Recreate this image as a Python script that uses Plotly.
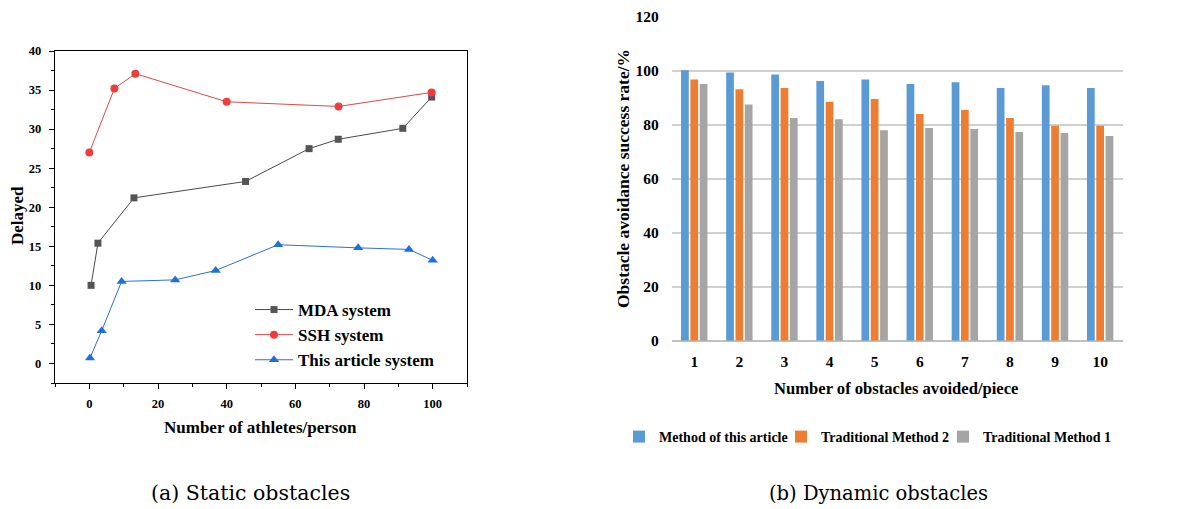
import plotly.graph_objects as go

# ---- Left chart data (Static obstacles) ----
mda_x = [0.5, 2.5, 13, 45.5, 64, 72.5, 91.3, 99.7]
mda_y = [10.0, 15.4, 21.2, 23.3, 27.5, 28.7, 30.1, 34.1]
ssh_x = [0, 7.3, 13.4, 40, 72.6, 99.7]
ssh_y = [27.0, 35.2, 37.1, 33.5, 32.9, 34.7]
art_x = [0.2, 3.6, 9.4, 25, 36.8, 55, 78.3, 93.1, 100]
art_y = [0.7, 4.2, 10.5, 10.7, 11.9, 15.2, 14.8, 14.6, 13.2]

# ---- Right chart data (Dynamic obstacles) ----
categories = ["1", "2", "3", "4", "5", "6", "7", "8", "9", "10"]
method_this = [100.2, 99.3, 98.6, 96.2, 96.7, 95.1, 95.7, 93.6, 94.6, 93.6]
trad_2 = [96.7, 93.1, 93.6, 88.5, 89.5, 84.0, 85.4, 82.5, 79.6, 79.6]
trad_1 = [95.1, 87.5, 82.5, 82.0, 77.9, 78.8, 78.4, 77.3, 76.9, 75.8]

W, H = 1182, 509
OFF = 8  # page body margin offset
SERIF = "Liberation Serif"

fig = go.Figure()

fig.add_trace(go.Scatter(x=mda_x, y=mda_y, mode="lines+markers", name="MDA system",
                         line=dict(color="#4a4a4a", width=1),
                         marker=dict(symbol="square", size=7, color="#555555"),
                         xaxis="x", yaxis="y", legend="legend"))
fig.add_trace(go.Scatter(x=ssh_x, y=ssh_y, mode="lines+markers", name="SSH system",
                         line=dict(color="#e04848", width=1),
                         marker=dict(symbol="circle", size=8, color="#f03c3c"),
                         xaxis="x", yaxis="y", legend="legend"))
fig.add_trace(go.Scatter(x=art_x, y=art_y, mode="lines+markers", name="This article system",
                         line=dict(color="#2f6fd6", width=1),
                         marker=dict(symbol="triangle-up", size=9, color="#1f6fe0"),
                         xaxis="x", yaxis="y", legend="legend"))

fig.add_trace(go.Bar(x=categories, y=method_this, name="Method of this article",
                     marker=dict(color="#5b9bd5", line=dict(width=0)),
                     xaxis="x2", yaxis="y2", legend="legend2"))
fig.add_trace(go.Bar(x=categories, y=trad_2, name="Traditional Method 2",
                     marker=dict(color="#ed7d31", line=dict(width=0)),
                     xaxis="x2", yaxis="y2", legend="legend3"))
fig.add_trace(go.Bar(x=categories, y=trad_1, name="Traditional Method 1",
                     marker=dict(color="#a5a5a5", line=dict(width=0)),
                     xaxis="x2", yaxis="y2", legend="legend4"))

def px_x(p):
    return (p - OFF) / W

def px_y(p):
    return 1 - (p - OFF) / H

tickfont_l = dict(family=SERIF, size=12.5, color="#000000", weight="bold")
tickfont_r = dict(family=SERIF, size=15.5, color="#000000", weight="bold")
legfont_r = dict(family=SERIF, size=14, color="#000000", weight="bold")

def bar_legend(xpix):
    return dict(x=px_x(xpix), y=px_y(437), xanchor="left", yanchor="middle",
                orientation="h", bgcolor="rgba(0,0,0,0)", itemwidth=30, font=legfont_r)

fig.update_layout(
    width=W, height=H,
    margin=dict(l=0, r=0, t=0, b=0, autoexpand=False),
    paper_bgcolor="white", plot_bgcolor="white",
    barmode="group", bargap=0.38, bargroupgap=0.17,
    showlegend=True,
    xaxis=dict(domain=[px_x(55), px_x(467)], range=[-10, 110],
               tickvals=[0, 20, 40, 60, 80, 100],
               showline=True, linecolor="#000000", linewidth=1.3, mirror=True,
               ticks="outside", ticklen=5, tickcolor="#000000", tickwidth=1,
               minor=dict(ticks="outside", ticklen=3, dtick=10, tickcolor="#000000"),
               showgrid=False, zeroline=False, tickfont=tickfont_l, anchor="y",
               automargin=False, ticklabelstandoff=4),
    yaxis=dict(domain=[px_y(383), px_y(51)], range=[-2.5, 40],
               tickvals=[0, 5, 10, 15, 20, 25, 30, 35, 40],
               showline=True, linecolor="#000000", linewidth=1.3, mirror=True,
               ticks="outside", ticklen=5, tickcolor="#000000", tickwidth=1,
               minor=dict(ticks="outside", ticklen=3, dtick=2.5, tickcolor="#000000"),
               showgrid=False, zeroline=False, tickfont=tickfont_l, anchor="x",
               automargin=False, ticklabelstandoff=5),
    xaxis2=dict(domain=[px_x(671.7), px_x(1122.7)], range=[-0.5, 9.5],
                showline=False, ticks="", showgrid=False, zeroline=False,
                tickfont=tickfont_r, anchor="y2", ticklabelstandoff=10, automargin=False),
    yaxis2=dict(domain=[px_y(340.7), px_y(16.7)], range=[0, 120],
                tickvals=[0, 20, 40, 60, 80, 100, 120],
                showline=False, ticks="", showgrid=True, gridcolor="#d0d0d0", gridwidth=2,
                zeroline=True, zerolinecolor="#c0c0c0", zerolinewidth=2,
                tickfont=tickfont_r, anchor="x2", ticklabelstandoff=12, automargin=False),
    legend=dict(x=px_x(250), y=px_y(292), xanchor="left", yanchor="top",
                bgcolor="rgba(0,0,0,0)", tracegroupgap=0, itemwidth=38,
                font=dict(family=SERIF, size=17, color="#000000", weight="bold")),
    legend2=bar_legend(619),
    legend3=bar_legend(781),
    legend4=bar_legend(943),
)

annots = [
    dict(text="Delayed", x=px_x(17), y=px_y(216), textangle=-90,
         font=dict(family=SERIF, size=17, weight="bold")),
    dict(text="Number of athletes/person", x=px_x(260), y=px_y(427),
         font=dict(family=SERIF, size=17, weight="bold")),
    dict(text="Obstacle avoidance success rate/%", x=px_x(623), y=px_y(178), textangle=-90,
         font=dict(family=SERIF, size=17.5, weight="bold")),
    dict(text="Number of obstacles avoided/piece", x=px_x(896), y=px_y(388),
         font=dict(family=SERIF, size=16.6, weight="bold")),
    dict(text="(a) Static obstacles", x=px_x(250), y=px_y(493),
         font=dict(family="DejaVu Serif", size=20.5)),
    dict(text="(b) Dynamic obstacles", x=px_x(878), y=px_y(493),
         font=dict(family="DejaVu Serif", size=19.5)),
]
for a in annots:
    a.update(xref="paper", yref="paper", showarrow=False, xanchor="center", yanchor="middle")
    a["font"].setdefault("color", "#000000")
fig.update_layout(annotations=annots)

fig.write_html("out.html")
